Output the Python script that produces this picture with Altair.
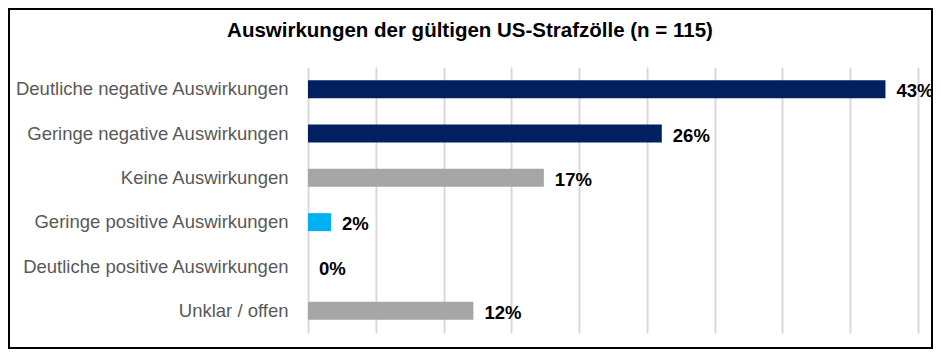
import altair as alt
import pandas as pd

title_text = "Auswirkungen der gültigen US-Strafzölle (n = 115)"
categories = [
    "Deutliche negative Auswirkungen",
    "Geringe negative Auswirkungen",
    "Keine Auswirkungen",
    "Geringe positive Auswirkungen",
    "Deutliche positive Auswirkungen",
    "Unklar / offen",
]
values = [42.6, 26.1, 17.4, 1.7, 0.0, 12.2]
colors = ["#002060", "#002060", "#A6A6A6", "#00B0F0", "#A6A6A6", "#A6A6A6"]

df = pd.DataFrame({"cat": categories, "val": values, "col": colors})
df["lab"] = df["val"].round(0).astype(int).astype(str) + "%"

W, H = 610, 266
PL, PT, PR, PB = 300, 59, 15, 16

y_enc = alt.Y("cat:N", sort=categories, title=None,
              axis=alt.Axis(labelFont="Liberation Sans", labelFontSize=18.5,
                            labelColor="#595959", labelPadding=20,
                            ticks=False, domain=False, grid=False,
                            labelLimit=400))
x_enc = alt.X("val:Q", scale=alt.Scale(domain=[0, 45], nice=False), title=None,
              axis=alt.Axis(values=list(range(0, 50, 5)), labels=False,
                            ticks=False, domain=False, grid=True,
                            gridColor="#D9D9D9", gridWidth=2))

bars = alt.Chart(df).mark_bar(size=18).encode(
    x=x_enc, y=y_enc, color=alt.Color("col:N", scale=None)
)
text = alt.Chart(df).mark_text(
    align="left", baseline="middle", dx=11, dy=2,
    font="Liberation Sans", fontSize=18.5, fontWeight="bold", color="#000000"
).encode(x="val:Q", y=alt.Y("cat:N", sort=categories), text="lab:N")

title = alt.Chart(pd.DataFrame({"t": [title_text]})).mark_text(
    font="Liberation Sans", fontSize=20.5, fontWeight="bold", color="#000000",
    align="center", baseline="middle"
).encode(x=alt.value(162), y=alt.value(-36), text="t:N")

border = alt.Chart(pd.DataFrame({"a": [0]})).mark_rect(
    fill=None, stroke="#000000", strokeWidth=2
).encode(x=alt.value(-299), x2=alt.value(624), y=alt.value(-58), y2=alt.value(281))

chart = alt.layer(bars, text, title, border).properties(
    width=W, height=H,
    autosize=alt.AutoSizeParams(type="none"),
    padding={"left": PL, "top": PT, "right": PR, "bottom": PB},
).configure_view(stroke=None)

chart.save("out.html", embed_options={"renderer": "svg", "actions": False})
